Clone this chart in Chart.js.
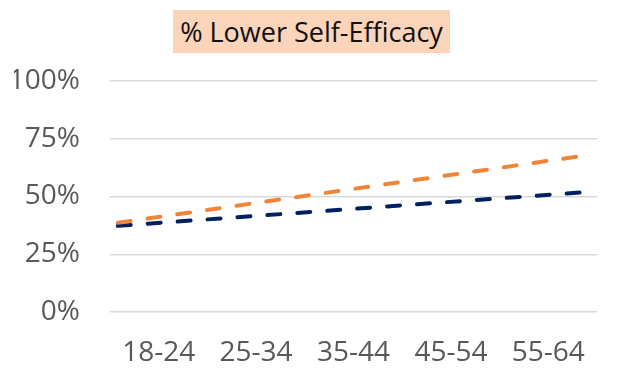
<!DOCTYPE html>
<html>
<head>
<meta charset="utf-8">
<script src="https://cdn.jsdelivr.net/npm/chart.js@4"></script>
<style>
  body { margin: 0; background: #fff; }
  #wrap { position: relative; width: 623px; height: 382px; }
  #title {
    position: absolute; top: 10px; left: 0; width: 623px; text-align: center;
    font-family: "Open Sans", sans-serif; font-size: 27px; color: #111;
  }
  #title span {
    display: inline-block; background: #fbd4b9; padding: 0 7px;
    height: 43px; line-height: 43px;
  }
  canvas { position: absolute; top: 0; left: 0; }
</style>
</head>
<body>
<div id="wrap">
  <canvas id="chart" width="623" height="382"></canvas>
  <div id="title"><span>% Lower Self-Efficacy</span></div>
</div>
<script>
// age groups on the x axis
const ageGroups = ["18-24", "25-34", "35-44", "45-54", "55-64"];
const yTicks = [0, 25, 50, 75, 100];

// trend lines, read at both ends (x in category units, 1 = first age group)
const trendX = [0.58, 5.42];
const orangeTrend = [38.6, 68.0];
const navyTrend = [37.3, 52.0];

function points(ys) {
    return ys.map((y, i) => ({ x: trendX[i], y: y }));
}

const font = { family: "'Open Sans', sans-serif", size: 28 };

new Chart(document.getElementById("chart"), {
    type: 'line',
    data: {
        datasets: [
            {
                label: 'Orange',
                data: points(orangeTrend),
                borderColor: '#f0853a',
                borderWidth: 4,
                borderDash: [13, 17],
                borderCapStyle: 'round',
                pointRadius: 0,
                fill: false
            },
            {
                label: 'Navy',
                data: points(navyTrend),
                borderColor: '#002060',
                borderWidth: 4,
                borderDash: [13, 17],
                borderCapStyle: 'round',
                pointRadius: 0,
                fill: false
            }
        ]
    },
    options: {
        responsive: false,
        animation: false,
        layout: { padding: { top: 81, left: 14, right: 26, bottom: 0 } },
        plugins: { legend: { display: false }, tooltip: { enabled: false } },
        scales: {
            x: {
                type: 'linear',
                min: 0.5,
                max: 5.5,
                grid: { display: false },
                border: { display: false },
                afterBuildTicks: axis => {
                    axis.ticks = ageGroups.map((_, i) => ({ value: i + 1 }));
                },
                afterFit: axis => { axis.height = 70; },
                ticks: {
                    font: font,
                    color: '#595959',
                    padding: 16,
                    maxRotation: 0,
                    autoSkip: false,
                    callback: v => ageGroups[v - 1]
                }
            },
            y: {
                min: 0,
                max: 100,
                grid: { color: '#d9d9d9', lineWidth: 1.5, drawTicks: false },
                border: { display: false },
                afterBuildTicks: axis => {
                    axis.ticks = yTicks.map(v => ({ value: v }));
                },
                afterFit: axis => { axis.width = 96; },
                ticks: {
                    font: font,
                    color: '#595959',
                    padding: 30,
                    callback: v => v + '%'
                }
            }
        }
    }
});
</script>
</body>
</html>
